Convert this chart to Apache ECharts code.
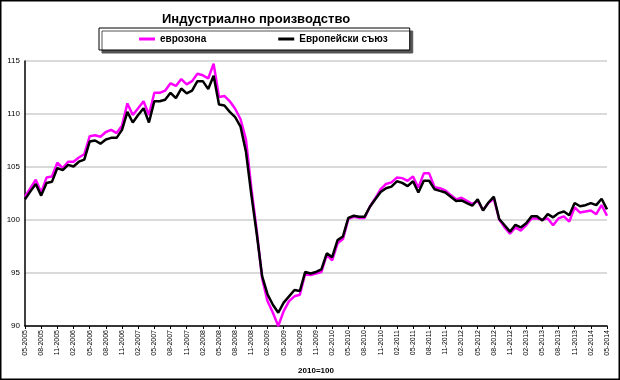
<!DOCTYPE html>
<html>
<head>
<meta charset="utf-8">
<script src="https://cdn.jsdelivr.net/npm/echarts@6/dist/echarts.min.js"></script>
<style>
html,body{margin:0;padding:0;background:#fff;}
#chart{width:620px;height:380px;}
</style>
</head>
<body>
<div id="chart"></div>
<script>
// Categories: monthly, 05-2005 .. 05-2014
var categories = [];
(function(){
  var m = 5, y = 2005;
  while (y < 2014 || (y === 2014 && m <= 5)) {
    categories.push((m < 10 ? '0' + m : '' + m) + '-' + y);
    m++; if (m > 12) { m = 1; y++; }
  }
})();

var seriesNames = ['еврозона', 'Европейски съюз'];

var eurozone = [
  102.2, 103.0, 103.8, 102.6, 104.0, 104.1, 105.4, 104.9, 105.5, 105.5, 105.9, 106.2,
  107.9, 108.0, 107.85, 108.3, 108.5, 108.2, 108.9, 111.0, 109.9, 110.55, 111.2, 109.9,
  112.0, 112.0, 112.2, 112.9, 112.65, 113.3, 112.8, 113.1, 113.8, 113.65, 113.35, 114.75,
  111.6, 111.7, 111.2, 110.5, 109.5, 107.6, 103.0, 99.0, 94.5, 92.35, 91.25, 90.0,
  91.4, 92.35, 92.8, 92.95, 94.95, 94.8, 94.95, 95.1, 96.7, 96.2, 97.8, 98.2,
  100.1, 100.3, 100.2, 100.2, 101.25, 102.05, 102.9, 103.4, 103.55, 104.0, 103.95, 103.7,
  104.1, 103.05, 104.4, 104.4, 103.1, 103.0, 102.8, 102.35, 101.95, 102.1, 101.8, 101.5,
  101.8, 100.95, 101.6, 102.0, 100.05, 99.3, 98.7, 99.3, 99.0, 99.5, 100.15, 100.15,
  100.05, 100.15, 99.5, 100.15, 100.35, 99.85, 101.2, 100.7, 100.8, 100.9, 100.55, 101.4,
  100.4
];

var eu = [
  101.95, 102.7, 103.4, 102.3, 103.5, 103.6, 104.9, 104.7, 105.2, 105.05, 105.5, 105.7,
  107.4, 107.5, 107.2, 107.6, 107.75, 107.75, 108.5, 110.2, 109.2, 109.9, 110.55, 109.2,
  111.2, 111.2, 111.35, 112.0, 111.5, 112.4, 111.95, 112.2, 113.1, 113.1, 112.35, 113.6,
  110.9, 110.8, 110.2, 109.7, 108.8, 106.45, 102.4, 98.7, 94.7, 93.0, 92.0, 91.25,
  92.2, 92.8, 93.4, 93.3, 95.1, 94.95, 95.1, 95.35, 96.85, 96.5, 98.1, 98.45,
  100.2, 100.4, 100.3, 100.3, 101.25, 101.95, 102.65, 103.0, 103.15, 103.65, 103.5, 103.2,
  103.65, 102.6, 103.7, 103.7, 102.9, 102.75, 102.6, 102.2, 101.8, 101.85, 101.6, 101.35,
  101.95, 100.9, 101.65, 102.2, 100.1, 99.5, 98.9, 99.55, 99.3, 99.7, 100.35, 100.35,
  99.95, 100.55, 100.25, 100.65, 100.8, 100.45, 101.6, 101.3, 101.4, 101.6, 101.4, 102.0,
  101.0
];

var yTicks = [90, 95, 100, 105, 110, 115];

var chart = echarts.init(document.getElementById('chart'), null, {renderer: 'canvas'});
chart.setOption({
  animation: false,
  backgroundColor: '#fff',
  title: {
    text: 'Индустриално производство',
    left: 157, top: 8,
    textStyle: {fontFamily: 'Liberation Sans, Arial, sans-serif', fontSize: 13, fontWeight: 'bold', color: '#000'}
  },
  legend: {
    data: seriesNames,
    left: 99, top: 28,
    padding: [6, 22, 6, 40],
    itemGap: 72,
    itemWidth: 16, itemHeight: 3,
    icon: 'rect',
    backgroundColor: '#fff',
    borderColor: '#000', borderWidth: 1,
    shadowColor: '#555', shadowOffsetX: 3, shadowOffsetY: 3, shadowBlur: 0,
    textStyle: {fontFamily: 'Liberation Sans, Arial, sans-serif', fontSize: 10, fontWeight: 'bold', color: '#000'}
  },
  grid: {left: 25, right: 13, top: 61, bottom: 50, containLabel: false},
  xAxis: {
    type: 'category',
    data: categories,
    boundaryGap: false,
    name: '2010=100',
    nameLocation: 'middle',
    nameGap: 41,
    nameTextStyle: {fontFamily: 'Liberation Sans, Arial, sans-serif', fontSize: 8, fontWeight: 'bold', color: '#000'},
    axisLine: {lineStyle: {color: '#000', width: 1.5}},
    axisTick: {show: true, interval: 2, length: 3, lineStyle: {color: '#000'}},
    axisLabel: {interval: 2, rotate: 90, margin: 4, fontFamily: 'Liberation Sans, Arial, sans-serif', fontSize: 7, color: '#000'},
    splitLine: {show: false}
  },
  yAxis: {
    type: 'value',
    min: yTicks[0], max: yTicks[yTicks.length - 1], interval: 5,
    axisLine: {show: true, lineStyle: {color: '#000', width: 1.5}},
    axisTick: {show: false},
    axisLabel: {margin: 5, fontFamily: 'Liberation Sans, Arial, sans-serif', fontSize: 8, color: '#000'},
    splitLine: {show: true, lineStyle: {color: '#dadada', width: 2}}
  },
  series: [
    {name: seriesNames[0], type: 'line', data: eurozone, symbol: 'none', lineStyle: {color: '#ff00ff', width: 2.5}, itemStyle: {color: '#ff00ff'}},
    {name: seriesNames[1], type: 'line', data: eu, symbol: 'none', lineStyle: {color: '#000', width: 2.5}, itemStyle: {color: '#000'}}
  ],
  graphic: [{
    type: 'rect', silent: true, z: 100,
    shape: {x: 0.75, y: 0.75, width: 618.5, height: 378.5},
    style: {fill: 'none', stroke: '#000', lineWidth: 1.5}
  }]
});
</script>
</body>
</html>
